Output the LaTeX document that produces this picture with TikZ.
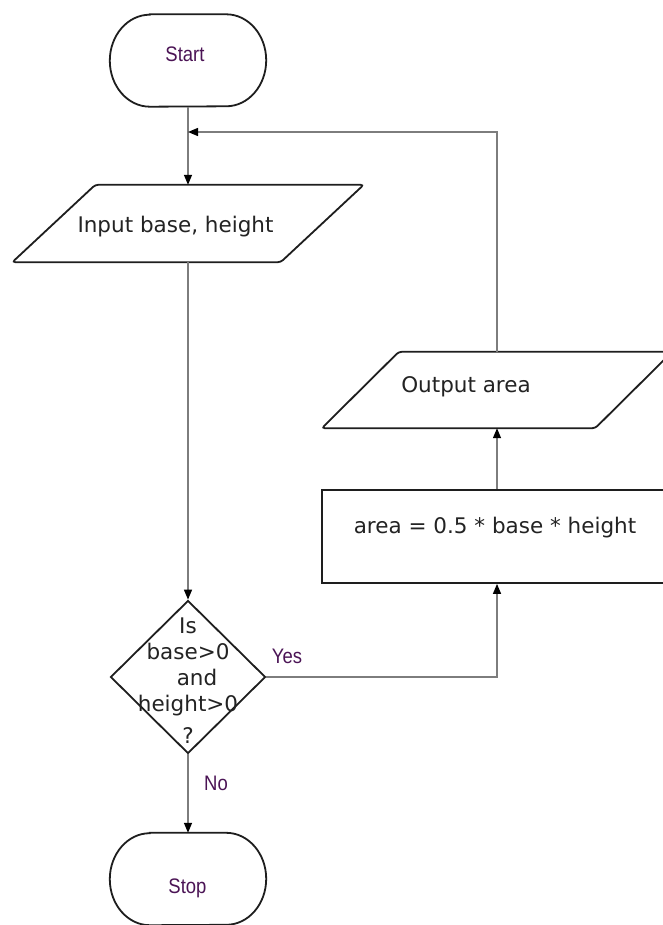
\documentclass[tikz,border=0pt]{standalone}
\usepackage{fontspec}
\setmainfont{DejaVu Sans}
\newfontfamily\labfont[FakeStretch=0.88]{Liberation Sans}
\usetikzlibrary{shapes.geometric,arrows.meta}
\definecolor{shapeline}{RGB}{30,30,30}
\definecolor{conngrey}{RGB}{125,125,125}
\definecolor{labcol}{RGB}{75,20,85}
\definecolor{txtcol}{RGB}{35,35,35}
\tikzset{
  shapeborder/.style={draw=shapeline, line width=1.8pt},
  termarea/.style={minimum width=156pt, minimum height=92pt, inner sep=0pt},
  procbox/.style={shapeborder, minimum width=350pt, minimum height=93pt, inner sep=0pt},
  ioarea/.style={minimum width=350pt, inner sep=0pt},
  iooutline/.style={shapeborder, rounded corners=3pt},
  decision/.style={shapeborder, diamond, minimum width=155pt, minimum height=153pt, inner sep=0pt},
  connector/.style={draw=conngrey, line width=1.4pt},
  arr/.style={connector, -{Triangle[length=10pt,width=8pt,color=black]}},
  maintext/.style={font=\fontsize{21.5}{26}\selectfont, text=txtcol, inner sep=0pt},
  labtext/.style={font=\labfont\fontsize{21}{24}\selectfont, text=labcol, inner sep=0pt},
}
\begin{document}
\begin{tikzpicture}[x=1pt,y=-1pt]
\clip (0,0) rectangle (663,925);
\fill[white] (0,0) rectangle (663,925);
% terminals
\node[termarea] (start) at (188,60.5) {};
\draw[shapeborder] ([xshift=40pt]start.north west) -- ([xshift=-40pt]start.north east)
  arc[start angle=90, end angle=-90, x radius=40pt, y radius=46pt]
  -- ([xshift=40pt]start.south west)
  arc[start angle=270, end angle=90, x radius=40pt, y radius=46pt] -- cycle;
\node[labtext, anchor=base] (starttxt) at (185,62) {Start};
\node[termarea] (stop) at (188,879) {};
\draw[shapeborder] ([xshift=40pt]stop.north west) -- ([xshift=-40pt]stop.north east)
  arc[start angle=90, end angle=-90, x radius=40pt, y radius=46pt]
  -- ([xshift=40pt]stop.south west)
  arc[start angle=270, end angle=90, x radius=40pt, y radius=46pt] -- cycle;
\node[labtext, anchor=base] (stoptxt) at (187.5,893) {Stop};
% input
\node[ioarea, minimum width=351pt, minimum height=77pt] (in) at (188,223.5) {};
\draw[iooutline] (in.south west) -- ([xshift=83pt]in.north west) -- (in.north east) -- ([xshift=-83pt]in.south east) -- cycle;
\node[maintext, anchor=base] (intxt) at (175.5,233) {Input base, height};
% decision
\node[decision] (dec) at (188,677) {};
\node[maintext, align=center] (dectxt) at (188,681) {Is\\base>0\\\hspace{18pt}and\\height>0\\[6pt]?};
% process
\node[procbox] (calc) at (497,536.5) {};
\node[maintext, anchor=base] (calctxt) at (495,533) {area = 0.5 * base * height};
% output
\node[ioarea, minimum height=76pt] (out) at (497,390) {};
\draw[iooutline] (out.south west) -- ([xshift=77pt]out.north west) -- (out.north east) -- ([xshift=-77pt]out.south east) -- cycle;
\node[maintext, anchor=base] (outtxt) at (466,392) {Output area};
% labels
\node[labtext, anchor=base] (yes) at (287,663) {Yes};
\node[labtext, anchor=base] (no) at (216,790) {No};
% connectors
\coordinate (fb) at (188,132);
\draw[arr] (start.south) -- (in.north);
\draw[arr] (in.south) -- (dec.north);
\draw[arr] (dec.south) -- (stop.north);
\draw[arr] (dec.east) -| (calc.south);
\draw[arr] (calc.north) -- (out.south);
\draw[arr] (out.north) |- (fb);
\end{tikzpicture}
\end{document}
